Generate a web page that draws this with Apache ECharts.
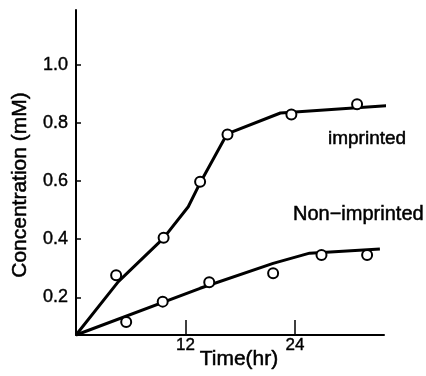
<!DOCTYPE html>
<html>
<head>
<meta charset="utf-8">
<script src="https://cdn.jsdelivr.net/npm/echarts@6/dist/echarts.min.js"></script>
<style>
html,body{margin:0;padding:0;background:#fff;}
#c{width:426px;height:376px;}
</style>
</head>
<body>
<div id="c"></div>
<script>
// Measured points (circles)
var timeImprinted = [4.4, 9.6, 13.6, 16.6, 23.6, 30.8];
var concImprinted = [0.276, 0.405, 0.598, 0.761, 0.830, 0.865];
var timeNonImprinted = [5.5, 9.5, 14.6, 21.6, 26.9, 31.9];
var concNonImprinted = [0.115, 0.185, 0.252, 0.283, 0.346, 0.346];
// Drawn curves
var fitImprintedT = [0, 4.64, 9.57, 12.3, 13.6, 16.55, 22.4, 35.4];
var fitImprintedC = [0.07, 0.254, 0.403, 0.512, 0.594, 0.763, 0.835, 0.863];
var fitNonImprintedT = [0, 13.6, 21.6, 25.6, 33.3];
var fitNonImprintedC = [0.07, 0.231, 0.317, 0.352, 0.366];
// Ticks
var xTicks = [12, 24];
var yTicks = [0.2, 0.4, 0.6, 0.8, 1.0];

function zip(a, b) { return a.map(function (v, i) { return [v, b[i]]; }); }

var font = 'Liberation Sans, Arial, sans-serif';
var chart = echarts.init(document.getElementById('c'));
var txt = function (x, y, text, size, align, rot) {
  return { type: 'text', x: x, y: y, rotation: rot || 0, z: 10,
    style: { text: text, font: size + 'px ' + font, fill: '#000', stroke: '#000', lineWidth: 0.5,
      align: align, verticalAlign: 'middle' } };
};
chart.setOption({
  animation: false,
  backgroundColor: '#fff',
  grid: { left: 76, right: 42, top: 10, bottom: 41, containLabel: false, outerBoundsMode: 'none' },
  xAxis: {
    type: 'value', min: 0, max: 33.75,
    splitLine: { show: false },
    axisLine: { lineStyle: { color: '#000', width: 2 } },
    axisTick: { customValues: xTicks, inside: true, length: 15, lineStyle: { color: '#000', width: 1.5 } },
    axisLabel: { customValues: xTicks, color: '#000', fontSize: 17, fontFamily: font, margin: 2,
      textBorderColor: '#000', textBorderWidth: 0.4 }
  },
  yAxis: {
    type: 'value', min: 0.07, max: 1.19,
    splitLine: { show: false },
    axisLine: { lineStyle: { color: '#000', width: 2 } },
    axisTick: { customValues: yTicks, inside: true, length: 5, lineStyle: { color: '#000', width: 1.5 } },
    axisLabel: { customValues: yTicks, color: '#000', fontSize: 18, fontFamily: font, margin: 8,
      textBorderColor: '#000', textBorderWidth: 0.4,
      formatter: function (v) { return v.toFixed(1); } }
  },
  series: [
    { type: 'line', data: zip(fitImprintedT, fitImprintedC), symbol: 'none', clip: false,
      lineStyle: { color: '#000', width: 3 }, z: 2 },
    { type: 'line', data: zip(fitNonImprintedT, fitNonImprintedC), symbol: 'none', clip: false,
      lineStyle: { color: '#000', width: 3 }, z: 2 },
    { type: 'scatter', data: zip(timeImprinted, concImprinted), symbol: 'circle', symbolSize: 10,
      itemStyle: { color: '#fff', borderColor: '#000', borderWidth: 2, opacity: 1 }, z: 3 },
    { type: 'scatter', data: zip(timeNonImprinted, concNonImprinted), symbol: 'circle', symbolSize: 10,
      itemStyle: { color: '#fff', borderColor: '#000', borderWidth: 2, opacity: 1 }, z: 3 }
  ],
  graphic: [
    txt(20, 185, 'Concentration (mM)', 21, 'center', Math.PI / 2),
    txt(239, 359, 'Time(hr)', 21, 'center'),
    txt(328, 138.5, 'imprinted', 19, 'left'),
    txt(293, 214.5, 'Non\u2212imprinted', 20, 'left')
  ]
});
</script>
</body>
</html>
